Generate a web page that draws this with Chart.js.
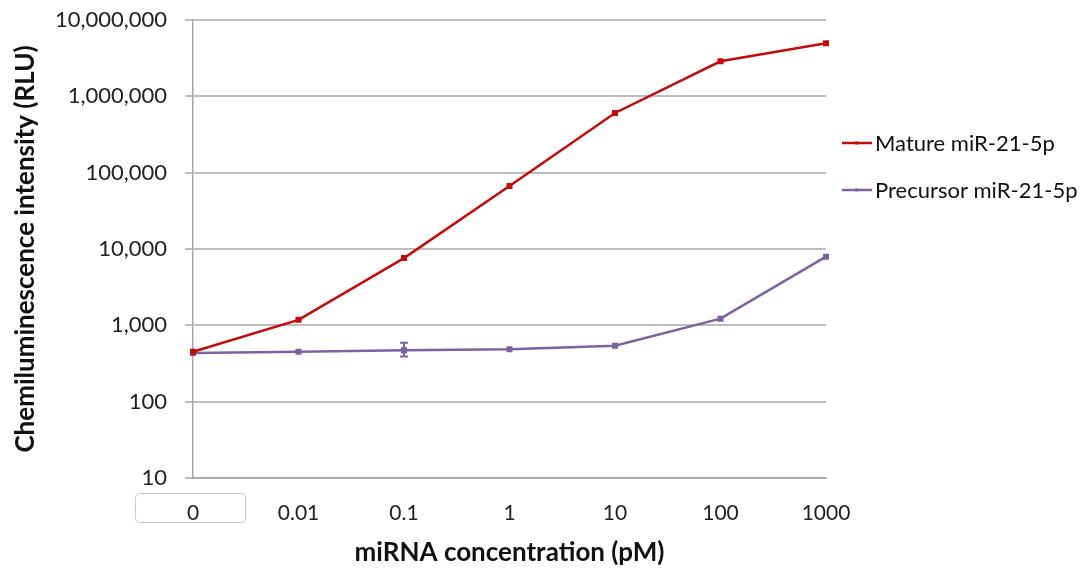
<!DOCTYPE html>
<html>
<head>
<meta charset="utf-8">
<script src="https://cdn.jsdelivr.net/npm/chart.js@4.4.1/dist/chart.umd.min.js"></script>
<style>
html,body{margin:0;padding:0;background:#fff;}
#wrap{position:relative;width:1084px;height:574px;}
</style>
</head>
<body>
<div id="wrap"><canvas id="c" width="1084" height="574"></canvas></div>
<script>
const categories = ['0', '0.01', '0.1', '1', '10', '100', '1000'];
const matureValues = [450, 1180, 7600, 67000, 605000, 2880000, 4950000];
const precursorValues = [435, 452, 470, 486, 541, 1222, 7940];
const precursorErrLow = [null, null, 390, null, null, null, null];
const precursorErrHigh = [null, null, 590, null, null, null, null];
const yTickValues = [10, 100, 1000, 10000, 100000, 1000000, 10000000];
const seriesNames = ['Mature miR-21-5p', 'Precursor miR-21-5p'];

const FONT = 'Lato, "Open Sans", sans-serif';
const RED = '#c50a0a';
const PURPLE = '#7d61a0';

const errorBarPlugin = {
  id: 'errorBars',
  afterDatasetsDraw(chart) {
    const ctx = chart.ctx, xs = chart.scales.x, ys = chart.scales.y;
    ctx.save();
    ctx.strokeStyle = PURPLE;
    ctx.lineWidth = 2;
    for (let i = 0; i < categories.length; i++) {
      if (precursorErrLow[i] == null) continue;
      const x = xs.getPixelForValue(i);
      const y1 = ys.getPixelForValue(precursorErrLow[i]);
      const y2 = ys.getPixelForValue(precursorErrHigh[i]);
      ctx.beginPath();
      ctx.moveTo(x, y1); ctx.lineTo(x, y2);
      ctx.moveTo(x - 4, y1); ctx.lineTo(x + 4, y1);
      ctx.moveTo(x - 4, y2); ctx.lineTo(x + 4, y2);
      ctx.stroke();
    }
    ctx.restore();
  }
};

const extrasPlugin = {
  id: 'extras',
  afterDraw(chart) {
    const ctx = chart.ctx, xs = chart.scales.x;
    ctx.save();
    const x0 = xs.getPixelForValue(0);
    const bx = x0 - 58, by = 493, bw = 110, bh = 29, r = 4;
    ctx.strokeStyle = '#c8c8c8';
    ctx.lineWidth = 1;
    ctx.beginPath();
    ctx.roundRect(bx + 0.5, by + 0.5, bw, bh, r);
    ctx.stroke();
    const colors = [RED, PURPLE];
    const ly = [143, 190];
    ctx.font = '22px ' + FONT;
    ctx.textBaseline = 'middle';
    for (let k = 0; k < 2; k++) {
      ctx.strokeStyle = colors[k];
      ctx.lineWidth = 2.5;
      ctx.beginPath();
      ctx.moveTo(842, ly[k]); ctx.lineTo(872, ly[k]);
      ctx.stroke();
      ctx.fillStyle = colors[k];
      ctx.fillRect(855, ly[k] - 1.5, 3, 3);
      ctx.fillStyle = '#111';
      ctx.fillText(seriesNames[k], 875, ly[k] + 1);
    }
    ctx.restore();
  }
};

new Chart(document.getElementById('c'), {
  type: 'line',
  data: {
    labels: categories,
    datasets: [
      {
        label: seriesNames[0], data: matureValues,
        borderColor: RED, backgroundColor: RED, borderWidth: 2.5,
        pointStyle: 'rect', pointRadius: 2.5, tension: 0
      },
      {
        label: seriesNames[1], data: precursorValues,
        borderColor: PURPLE, backgroundColor: PURPLE, borderWidth: 2.5,
        pointStyle: 'rect', pointRadius: 2.5, tension: 0
      }
    ]
  },
  options: {
    responsive: false,
    animation: false,
    layout: { padding: { top: 20, right: 258, left: 0, bottom: 0 } },
    plugins: { legend: { display: false }, tooltip: { enabled: false } },
    scales: {
      x: {
        type: 'category',
        offset: false,
        grid: { display: false, drawOnChartArea: false, drawTicks: true, tickLength: 8, color: '#a6a6a6' },
        border: { display: true, color: '#a6a6a6', width: 1.5 },
        ticks: { color: '#222', font: { family: FONT, size: 21 }, padding: 15, maxRotation: 0, autoSkip: false },
        title: { display: true, text: 'miRNA concentration (pM)', color: '#111', font: { family: FONT, size: 26, weight: 'bold' }, padding: { top: 0, bottom: 6 } },
        afterFit(scale) { scale.height = 96; scale.paddingLeft = 0; scale.paddingRight = 0; }
      },
      y: {
        type: 'logarithmic',
        min: yTickValues[0], max: yTickValues[yTickValues.length - 1],
        grid: { color: '#bdbdbd', lineWidth: 2, tickLength: 8 },
        border: { display: true, color: '#a6a6a6', width: 1.5 },
        afterBuildTicks(scale) { scale.ticks = yTickValues.map(v => ({ value: v })); },
        ticks: {
          color: '#222', font: { family: FONT, size: 22 }, padding: 18,
          callback: (v) => Number(v).toLocaleString('en-US')
        },
        title: { display: true, text: 'Chemiluminescence intensity (RLU)', color: '#111', font: { family: FONT, size: 26, weight: 'bold' }, padding: { top: 10, bottom: 0 } },
        afterFit(scale) { scale.width = 193; scale.paddingTop = 0; scale.paddingBottom = 0; }
      }
    }
  },
  plugins: [errorBarPlugin, extrasPlugin]
});
</script>
</body>
</html>
